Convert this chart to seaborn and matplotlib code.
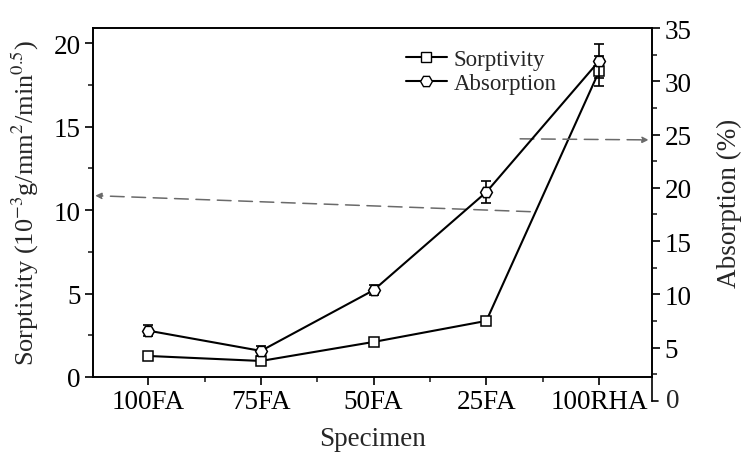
import numpy as np
import pandas as pd
import matplotlib
matplotlib.use("Agg")
import matplotlib.pyplot as plt
from matplotlib.ticker import MultipleLocator, FixedLocator
from matplotlib.lines import Line2D
import seaborn as sns

# Data
specimens = ["100FA", "75FA", "50FA", "25FA", "100RHA"]
sorptivity = [1.26, 0.96, 2.1, 3.36, 18.3]
sorptivity_err = [0.15, 0.15, 0.15, 0.15, 0.9]
absorption = [6.6, 4.7, 10.4, 19.6, 31.9]
absorption_err = [0.5, 0.5, 0.5, 1.0, 1.6]

sns.set_style("ticks")
plt.rcParams["font.family"] = ["Liberation Serif", "DejaVu Serif"]
plt.rcParams["mathtext.fontset"] = "stix"
for key in ("xtick.major.width", "ytick.major.width",
            "xtick.minor.width", "ytick.minor.width"):
    plt.rcParams[key] = 1.2

df = pd.DataFrame({
    "pos": np.arange(len(specimens)),
    "Specimen": specimens,
    "Sorptivity": sorptivity,
    "Absorption": absorption,
})

fig = plt.figure(figsize=(7.48, 4.56), dpi=100)
ax = fig.add_axes([93 / 748, 1 - 378 / 456, 559 / 748, 349 / 456])
ax2 = ax.twinx()

# Sorptivity on the left axis
sns.lineplot(data=df, x="pos", y="Sorptivity", ax=ax, color="black", lw=1.5,
             marker="s", markersize=6.5, markerfacecolor="white",
             markeredgecolor="black", markeredgewidth=1.1, legend=False, zorder=3)
ax.errorbar(df["pos"], df["Sorptivity"], yerr=sorptivity_err, fmt="none",
            ecolor="black", elinewidth=1.2, capsize=3.5, capthick=1.2, zorder=2)

# Absorption on the right axis
sns.lineplot(data=df, x="pos", y="Absorption", ax=ax2, color="black", lw=1.5,
             marker="H", markersize=8.5, markerfacecolor="white",
             markeredgecolor="black", markeredgewidth=1.1, legend=False, zorder=3)
ax2.errorbar(df["pos"], df["Absorption"], yerr=absorption_err, fmt="none",
             ecolor="black", elinewidth=1.2, capsize=3.5, capthick=1.2, zorder=2)

ax.set_xlim(-0.49, 4.47)
ax.set_ylim(0, 20.9)
ax2.set_ylim(2.25, 35)

ax.set_xticks(df["pos"])
ax.set_xticklabels(specimens)
ax.xaxis.set_minor_locator(FixedLocator([0.5, 1.5, 2.5, 3.5]))
ax.yaxis.set_major_locator(MultipleLocator(5))
ax.yaxis.set_minor_locator(MultipleLocator(2.5))
ax2.yaxis.set_major_locator(FixedLocator([5, 10, 15, 20, 25, 30, 35]))
ax2.yaxis.set_minor_locator(FixedLocator([2.5, 7.5, 12.5, 17.5, 22.5, 27.5, 32.5]))

for a in (ax, ax2):
    a.tick_params(which="major", direction="out", length=6, labelsize=19.5,
                  colors="black", pad=3)
    a.tick_params(which="minor", direction="out", length=3.5)
    for s in a.spines.values():
        s.set_visible(True)
        s.set_color("black")
        s.set_linewidth(1.2)

ax.set_xlabel("Specimen", fontsize=19.5, labelpad=8)
ax.set_ylabel(r"Sorptivity (10$^{-3}$g/mm$^{2}$/min$^{0.5}$)", fontsize=19,
              labelpad=9)
ax2.set_ylabel("Absorption (%)", fontsize=19.5, labelpad=18)

# Right axis continues below the frame down to zero
ax2.spines["right"].set_bounds(0, 35)
ytr = ax2.get_yaxis_transform()
ax2.plot([1.0, 1.0 + 6 / 559], [0, 0], transform=ytr, color="black",
         lw=1.2, clip_on=False)
ax2.text(1.0 + 14 / 559, 0, "0", transform=ytr, fontsize=19.5,
         va="center", ha="left", clip_on=False)

# Dashed arrows pointing each series to its axis
arrow_style = dict(arrowstyle="-|>", color="#6a6a6a", lw=1.1,
                   linestyle=(0, (9, 5)), mutation_scale=9,
                   shrinkA=0, shrinkB=0)
ax.annotate("", xy=(-0.47, 10.86), xytext=(3.39, 9.9),
            arrowprops=arrow_style, zorder=1)
ax2.annotate("", xy=(4.44, 24.5), xytext=(3.30, 24.6),
             arrowprops=arrow_style, zorder=1)

# Legend
handles = [
    Line2D([], [], color="black", lw=1.5, marker="s", markersize=6.5,
           markerfacecolor="white", markeredgecolor="black"),
    Line2D([], [], color="black", lw=1.5, marker="H", markersize=8.5,
           markerfacecolor="white", markeredgecolor="black"),
]
ax.legend(handles, ["Sorptivity", "Absorption"], loc="upper left",
          bbox_to_anchor=(0.543, 0.965), frameon=False, fontsize=16.5,
          handlelength=1.8, handletextpad=0.3, labelspacing=0.12,
          borderaxespad=0)

fig.savefig("out.png", dpi=100, facecolor="white")
